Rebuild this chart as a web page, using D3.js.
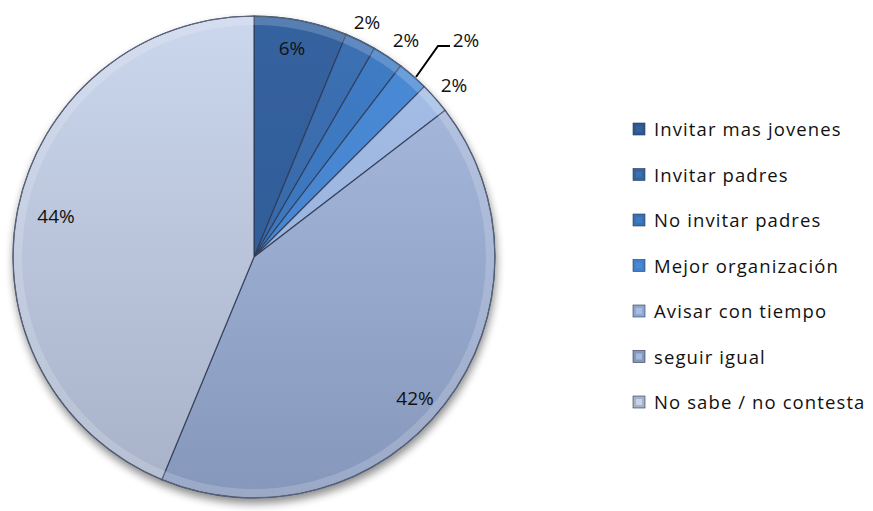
<!DOCTYPE html>
<html>
<head>
<meta charset="utf-8">
<script src="https://cdn.jsdelivr.net/npm/d3@7"></script>
<style>
  body { margin: 0; background: #fff; }
  svg { display: block; }
</style>
</head>
<body>
<div id="chart"></div>
<script>
// data (answer counts; labels are rounded shares)
const categories = ['Invitar mas jovenes', 'Invitar padres', 'No invitar padres', 'Mejor organización', 'Avisar con tiempo', 'seguir igual', 'No sabe / no contesta'];
const values = [3, 1, 1, 1, 1, 20, 21];
const colorsTop = ['#3563a0', '#3c70b4', '#3f7cc6', '#4b8ad6', '#a6c0ea', '#acbde2', '#cbd7ed'];
const colorsBottom = ['#2d5790', '#34649f', '#3a70b2', '#4480c8', '#90a8d0', '#8597bb', '#a7b1c8'];

const width = 873;
const height = 511;
const cx = 254, cy = 257, r = 241;

const svg = d3.select('#chart').append('svg')
	.attr('width', width)
	.attr('height', height)
	.style('font-family', '"Open Sans", sans-serif');

const defs = svg.append('defs');

// soft shadow under the pie
const shadow = defs.append('filter').attr('id', 'shadow').attr('x', '-10%').attr('y', '-10%').attr('width', '120%').attr('height', '125%');
shadow.append('feGaussianBlur').attr('in', 'SourceAlpha').attr('stdDeviation', 4);
shadow.append('feOffset').attr('dx', 1).attr('dy', 5).attr('result', 'b');
shadow.append('feComponentTransfer').append('feFuncA').attr('type', 'linear').attr('slope', 0.45);
const merge = shadow.append('feMerge');
merge.append('feMergeNode');
merge.append('feMergeNode').attr('in', 'SourceGraphic');

// vertical gradient for each slice
categories.forEach((c, i) => {
	const g = defs.append('linearGradient')
		.attr('id', 'grad' + i)
		.attr('gradientUnits', 'userSpaceOnUse')
		.attr('x1', 0).attr('y1', -r)
		.attr('x2', 0).attr('y2', r);
	g.append('stop').attr('offset', '0%').attr('stop-color', colorsTop[i]);
	g.append('stop').attr('offset', '100%').attr('stop-color', colorsBottom[i]);
});

const total = d3.sum(values);
const pie = d3.pie().sort(null).value((d) => d);
const arcs = pie(values);
const arc = d3.arc().innerRadius(0).outerRadius(r);

const pieG = svg.append('g')
	.attr('transform', `translate(${cx},${cy})`)
	.attr('filter', 'url(#shadow)');

pieG.selectAll('path.slice')
	.data(arcs)
	.enter()
	.append('path')
	.attr('class', 'slice')
	.attr('d', arc)
	.attr('fill', (d, i) => `url(#grad${i})`)
	.attr('stroke', '#2e3a55')
	.attr('stroke-width', 1.2)
	.attr('stroke-opacity', 0.85);

// bevel highlight near the rim
const rim = d3.arc().innerRadius(r - 9).outerRadius(r - 1);
pieG.selectAll('path.rim')
	.data(arcs)
	.enter()
	.append('path')
	.attr('class', 'rim')
	.attr('d', rim)
	.attr('fill', '#fff')
	.attr('opacity', 0.18);

// outline of the pie
pieG.append('circle')
	.attr('r', r)
	.attr('fill', 'none')
	.attr('stroke', '#5a6478')
	.attr('stroke-width', 1);

// percentage labels
const labelPos = [
	[292, 55], [367, 29], [406, 47], [466, 47], [454, 92], [415, 405], [56, 223]
];
svg.selectAll('text.pct')
	.data(arcs)
	.enter()
	.append('text')
	.attr('class', 'pct')
	.attr('x', (d, i) => labelPos[i][0])
	.attr('y', (d, i) => labelPos[i][1])
	.attr('text-anchor', 'middle')
	.attr('font-size', 19)
	.attr('fill', '#111')
	.text((d) => Math.round(d.data / total * 100) + '%');

// leader line for the 4th slice
svg.append('polyline')
	.attr('points', '416,77 438,46 450,46')
	.attr('fill', 'none')
	.attr('stroke', '#000')
	.attr('stroke-width', 2);

// legend
const legend = svg.append('g').attr('transform', 'translate(633,129)');
const item = legend.selectAll('g')
	.data(categories)
	.enter()
	.append('g')
	.attr('transform', (d, i) => `translate(0,${i * 45.5})`);

item.append('rect')
	.attr('x', 0).attr('y', -6)
	.attr('width', 12).attr('height', 12)
	.attr('fill', (d, i) => colorsBottom[i])
	.attr('stroke', '#2b3850')
	.attr('stroke-width', 0.6);

item.append('rect')
	.attr('x', 3).attr('y', -3)
	.attr('width', 6).attr('height', 6)
	.attr('fill', (d, i) => colorsTop[i])
	.attr('opacity', 0.9);

item.append('text')
	.attr('x', 21)
	.attr('y', 7)
	.attr('font-size', 18.5)
	.attr('letter-spacing', 1.1)
	.attr('fill', '#111')
	.text((d) => d);
</script>
</body>
</html>
